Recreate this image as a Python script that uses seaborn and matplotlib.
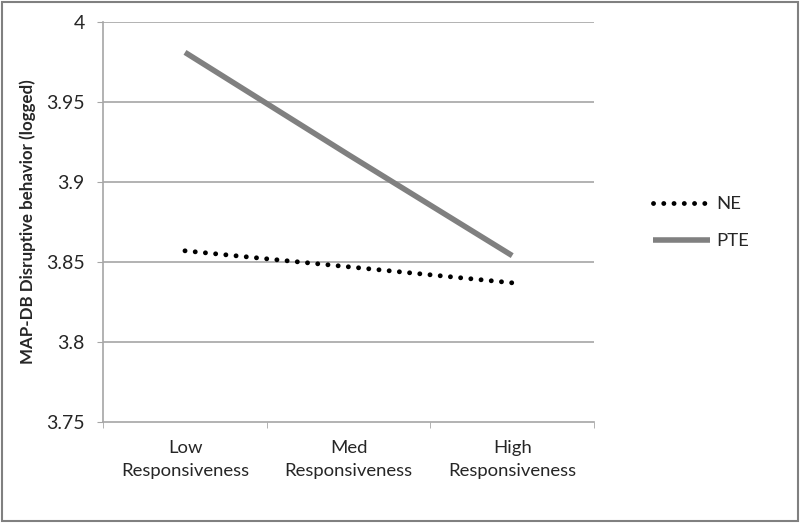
import numpy as np
import pandas as pd
import matplotlib
matplotlib.use("Agg")
import matplotlib.pyplot as plt
import seaborn as sns
from matplotlib.ticker import FixedLocator, NullFormatter

categories = ["Low\nResponsiveness", "Med\nResponsiveness", "High\nResponsiveness"]
ne_values = [3.857, 3.847, 3.837]
pte_values = [3.981, 3.917, 3.854]
y_ticks = [3.75, 3.8, 3.85, 3.9, 3.95, 4.0]
y_tick_labels = ["3.75", "3.8", "3.85", "3.9", "3.95", "4"]

sns.set_style("white")
plt.rcParams["font.family"] = ["Lato", "DejaVu Sans"]

df = pd.DataFrame({
    "cat": categories * 2,
    "value": ne_values + pte_values,
    "series": ["NE"] * 3 + ["PTE"] * 3,
})

fig = plt.figure(figsize=(8, 5.23), dpi=100)
ax = fig.add_axes([0.129, 0.193, 0.6135, 0.765])

# gridlines
for t in y_ticks[1:]:
    ax.axhline(t, color="#a6a6a6", lw=1.2, zorder=0)

sns.lineplot(data=df[df.series == "NE"], x="cat", y="value", ax=ax, sort=False,
             color="black", lw=3.5, label="NE",
             linestyle=(0, (0.01, 2.1)), dash_capstyle="round")
sns.lineplot(data=df[df.series == "PTE"], x="cat", y="value", ax=ax, sort=False,
             color="#808080", lw=4, label="PTE", solid_capstyle="butt")

ax.set_xlim(-0.5, 2.5)
ax.set_ylim(3.75, 4.0)
ax.set_yticks(y_ticks)
ax.set_yticklabels(y_tick_labels, fontsize=14)
ax.set_xticks(range(3))
ax.set_xticklabels(categories, fontsize=13.3, linespacing=1.5)
ax.tick_params(axis="x", which="major", length=0, pad=13)
ax.xaxis.set_minor_locator(FixedLocator([-0.5, 0.5, 1.5, 2.5]))
ax.xaxis.set_minor_formatter(NullFormatter())
ax.tick_params(axis="x", which="minor", length=4.3, color="#a6a6a6", direction="out", bottom=True)
ax.tick_params(axis="y", length=4.3, color="#a6a6a6", direction="out", left=True, pad=9)
for s in ["top", "right"]:
    ax.spines[s].set_visible(False)
for s in ["left", "bottom"]:
    ax.spines[s].set_color("#a6a6a6")
    ax.spines[s].set_linewidth(1.2)

ax.set_xlabel("")
ax.set_ylabel("MAP-DB Disruptive behavior (logged)", fontsize=12.2, fontweight="bold", labelpad=7)

ax.get_legend().remove()
handles, labels = ax.get_legend_handles_labels()
fig.legend(handles, labels, loc="center left", bbox_to_anchor=(0.795, 0.574),
           frameon=False, fontsize=13.3, handlelength=3.1, handletextpad=0.35,
           labelspacing=1.15)

# outer border
fig.patches.append(plt.Rectangle((0.002, 0.003), 0.995, 0.994, transform=fig.transFigure,
                                 fill=False, edgecolor="#808080", lw=1.5))

fig.savefig("out.png", dpi=100)
